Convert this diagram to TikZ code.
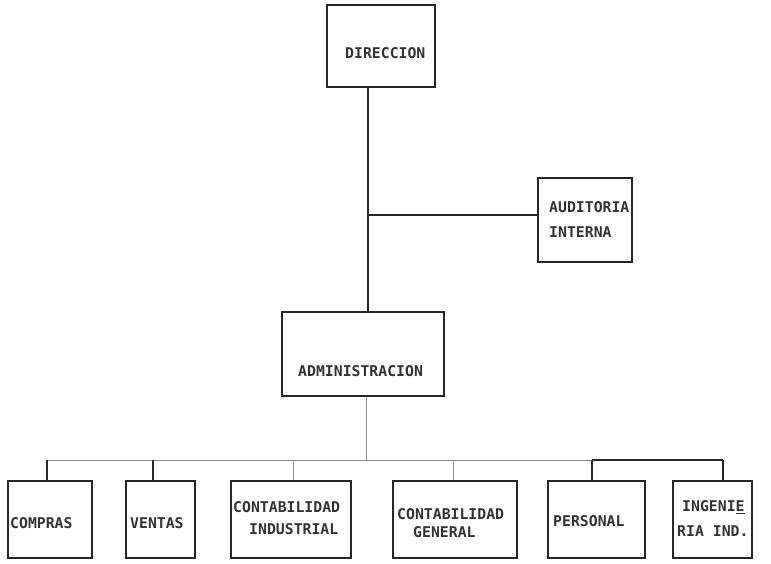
\documentclass[tikz,border=0pt]{standalone}
\usepackage{fontspec}
\newfontfamily\typew{DejaVu Sans Mono}
\begin{document}
\begin{tikzpicture}[x=1pt,y=-1pt,
  box/.style={draw=black!85, line width=1.3pt, rectangle, inner sep=0pt},
  lbl/.style={font=\typew\bfseries\fontsize{14.8}{16}\selectfont, inner sep=0pt, anchor=west, text=black!80},
  link/.style={draw=black!85, line width=1.4pt},
  faint/.style={draw=black!45, line width=1pt}]
\useasboundingbox (0,0) rectangle (771,564);
% boxes
\node[box, minimum width=108pt, minimum height=82pt] (dir) at (381,46) {};
\node[box, minimum width=94pt, minimum height=84pt] (aud) at (585,220) {};
\node[box, minimum width=162pt, minimum height=84pt] (adm) at (363,354) {};
\node[box, minimum width=84pt, minimum height=77pt] (comp) at (50,519.5) {};
\node[box, minimum width=69pt, minimum height=77pt] (vent) at (160.5,519.5) {};
\node[box, minimum width=120pt, minimum height=77pt] (cind) at (291,519.5) {};
\node[box, minimum width=124pt, minimum height=77pt] (cgen) at (455,519.5) {};
\node[box, minimum width=97pt, minimum height=77pt] (pers) at (596.5,519.5) {};
\node[box, minimum width=79pt, minimum height=77pt] (ing) at (712.5,519.5) {};
% texts
\node[lbl] (tdir) at (345,53) {DIRECCION};
\node[lbl] (taud1) at (549,207.5) {AUDITORIA};
\node[lbl] (taud2) at (549,232.5) {INTERNA};
\node[lbl] (tadm) at (298,371) {ADMINISTRACION};
\node[lbl] (tcomp) at (10,523) {COMPRAS};
\node[lbl] (tvent) at (130,523) {VENTAS};
\node[lbl] (tcind1) at (233,507) {CONTABILIDAD};
\node[lbl] (tcind2) at (249,529) {INDUSTRIAL};
\node[lbl] (tcgen1) at (397,514) {CONTABILIDAD};
\node[lbl] (tcgen2) at (413,532) {GENERAL};
\node[lbl] (tpers) at (553,521) {PERSONAL};
\node[lbl] (ting1) at (682,507.5) {INGENI\underline{E}};
\node[lbl] (ting2) at (677,531) {RIA IND.};
% connectors
\coordinate (trunk) at (368,215);
\draw[link] (dir.south -| trunk) -- (adm.north -| trunk);
\draw[link] (trunk) -- (trunk -| aud.west);
\coordinate (drop) at (366,460);
\coordinate (s1) at (47,460);
\coordinate (s2) at (153,460);
\coordinate (s3) at (293,460);
\coordinate (s4) at (453,460);
\coordinate (s5) at (592,460);
\coordinate (s6) at (723,460);
\draw[faint] (adm.south -| drop) -- (drop);
\draw[faint] (s1) -- (s5);
\draw[link] (s5) -- (s6);
\draw[link] (s1) -- (s1 |- comp.north);
\draw[link] (s2) -- (s2 |- vent.north);
\draw[faint] (s3) -- (s3 |- cind.north);
\draw[faint] (s4) -- (s4 |- cgen.north);
\draw[link] (s5) -- (s5 |- pers.north);
\draw[link] (s6) -- (s6 |- ing.north);
\end{tikzpicture}
\end{document}
